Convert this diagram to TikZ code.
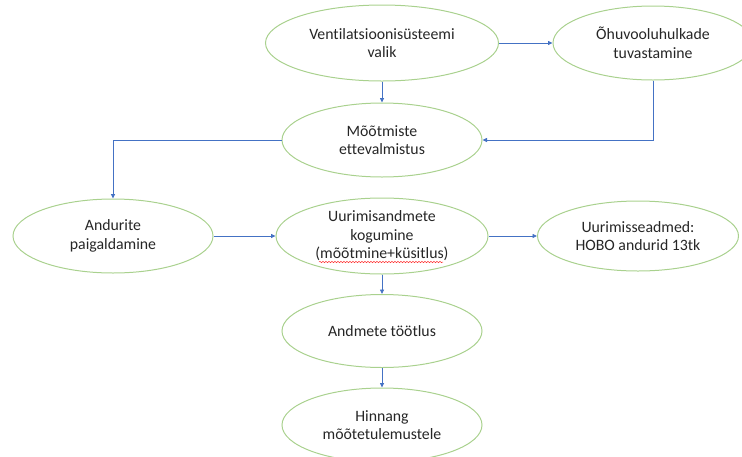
\documentclass[tikz,border=0pt]{standalone}
\usepackage{fontspec}
\setmainfont{Carlito}[Ligatures={NoCommon}]
\usepackage{tikz}
\usetikzlibrary{shapes.geometric,arrows.meta,decorations.pathmorphing}
\definecolor{myleafgreen}{RGB}{169, 209, 142}
\definecolor{myofficeblue}{RGB}{68, 114, 196}
\definecolor{mytextgray}{RGB}{38, 38, 38}
\tikzset{every picture/.style={line width=0.75pt}}
\tikzset{
  oval/.style={ellipse, draw=myleafgreen, line width=1pt, inner sep=0pt, align=center,
    text=mytextgray, font=\fontsize{15.8}{18.5}\selectfont},
  flowarrow/.style={draw=myofficeblue, line width=0.8pt, -{Triangle[length=4.5pt,width=4pt]}}
}
\begin{document}
\begin{tikzpicture}[x=1pt,y=1pt,yscale=-1]
\useasboundingbox (0,0) rectangle (742,456);
\clip (0,0) rectangle (742,456);

%Shape: Ellipse [vent]
\node [oval, minimum width=233pt, minimum height=76pt] (vent) at (382,43) {Ventilatsioonisüsteemi\\valik};
%Shape: Ellipse [ohu]
\node [oval, minimum width=200pt, minimum height=74pt] (ohu) at (653,43) {Õhuvooluhulkade\\tuvastamine};
%Shape: Ellipse [moot]
\node [oval, minimum width=200pt, minimum height=74pt] (moot) at (382,140) {Mõõtmiste\\ettevalmistus};
%Shape: Ellipse [andur]
\node [oval, minimum width=200pt, minimum height=74pt] (andur) at (113,236) {Andurite\\paigaldamine};
%Shape: Ellipse [uurim]
\node [oval, minimum width=212pt, minimum height=76pt] (uurim) at (382,236) {Uurimisandmete\\kogumine\\(mõõtmine+küsitlus)};
%Shape: Ellipse [seadm]
\node [oval, minimum width=201pt, minimum height=70pt] (seadm) at (638,236) {Uurimisseadmed:\\HOBO andurid 13tk};
%Shape: Ellipse [tootlus]
\node [oval, minimum width=200pt, minimum height=73pt] (tootlus) at (382,331) {Andmete töötlus};
%Shape: Ellipse [hinnang]
\node [oval, minimum width=200pt, minimum height=74pt] (hinnang) at (382,425) {Hinnang\\mõõtetulemustele};

%Straight Lines
\draw [flowarrow] (vent.east) -- (ohu.west);
\draw [flowarrow] (vent.south) -- (moot.north);
\draw [flowarrow] (ohu.south) |- (moot.east);
\draw [flowarrow] (moot.west) -| (andur.north);
\draw [flowarrow] (andur.east) -- (uurim.west);
\draw [flowarrow] (uurim.east) -- (seadm.west);
\draw [flowarrow] (uurim.south) -- (tootlus.north);
\draw [flowarrow] (tootlus.south) -- (hinnang.north);

%Spell check underline
\coordinate (wavyA) at (319,262);
\coordinate (wavyB) at (443,262);
\draw [red!80, line width=0.5pt, decorate, decoration={snake, amplitude=0.7pt, segment length=3pt}] (wavyA) -- (wavyB);

\end{tikzpicture}
\end{document}
